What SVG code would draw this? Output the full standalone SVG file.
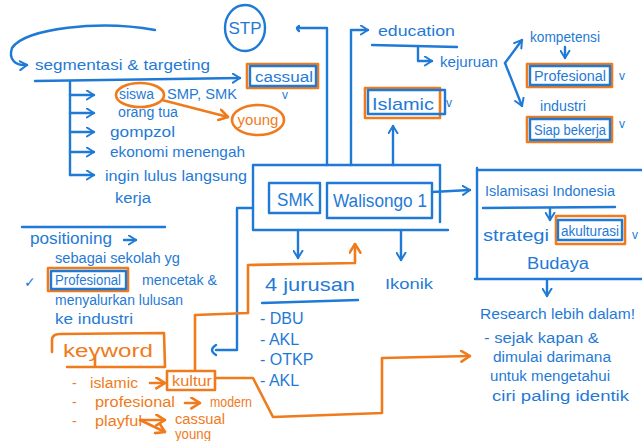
<svg xmlns="http://www.w3.org/2000/svg" width="642" height="441" viewBox="0 0 642 441" font-size="14">
<defs>
<style>
.b{fill:none;stroke:#1f7ad6;stroke-width:2.4;stroke-linecap:round;stroke-linejoin:round}
.o{fill:none;stroke:#f07b1c;stroke-width:2.6;stroke-linecap:round;stroke-linejoin:round}
.tb{font-family:"Liberation Sans","DejaVu Sans",sans-serif;fill:#1f7ad6}
.to{font-family:"Liberation Sans","DejaVu Sans",sans-serif;fill:#f07b1c}
</style>
<marker id="ab" viewBox="0 0 10 12" refX="9" refY="6" markerWidth="9" markerHeight="11" orient="auto" markerUnits="userSpaceOnUse"><path d="M1,1 L9,6 L1,11" fill="none" stroke="#1f7ad6" stroke-width="2.2" stroke-linecap="round" stroke-linejoin="round"/></marker>
<marker id="ao" viewBox="0 0 10 12" refX="9" refY="6" markerWidth="11" markerHeight="13" orient="auto" markerUnits="userSpaceOnUse"><path d="M1,1 L9,6 L1,11" fill="none" stroke="#f07b1c" stroke-width="2.4" stroke-linecap="round" stroke-linejoin="round"/></marker>
</defs>
<rect width="642" height="441" fill="#fff"/>

<g id="connectors">
<path class="b" d="M155,30 C100,20 25,28 12,48 C8,60 16,66 27,65" marker-end="url(#ab)"/>
<path class="b" d="M35,81 L240,78" marker-end="url(#ab)"/>
<path class="b" d="M70,81 L70,175"/>
<path class="b" d="M70,95 L94,95" marker-end="url(#ab)"/>
<path class="b" d="M70,113 L94,113" marker-end="url(#ab)"/>
<path class="b" d="M70,132 L94,132" marker-end="url(#ab)"/>
<path class="b" d="M70,152 L94,152" marker-end="url(#ab)"/>
<path class="b" d="M70,175 L94,175" marker-end="url(#ab)"/>
<path class="o" d="M162,100 L228,117" marker-end="url(#ao)"/>
<path class="b" d="M299,26 Q295,28 299,31 M297,28 L327,28 L327,165"/>
<path class="b" d="M351,165 L351,30 L368,30" marker-end="url(#ab)"/>
<path class="b" d="M393,165 L393,126" marker-end="url(#ab)"/>
<path class="b" d="M418,47 L418,61 L432,61" marker-end="url(#ab)"/>
<path class="b" d="M505,63 L522,40" marker-end="url(#ab)"/>
<path class="b" d="M505,63 L522,106" marker-end="url(#ab)"/>
<path class="b" d="M565,47 L565,58" marker-end="url(#ab)"/>
<path class="b" d="M298,231 L298,258" marker-end="url(#ab)"/>
<path class="b" d="M401,231 L401,260" marker-end="url(#ab)"/>
<path class="b" d="M253,208 L237,208 L237,350 L216,350 M216,345 Q208,350 216,355"/>
<path class="b" d="M432,192 L470,190" marker-end="url(#ab)"/>
<path class="b" d="M550,208 L550,220" marker-end="url(#ab)"/>
<path class="b" d="M547,280 L547,296" marker-end="url(#ab)"/>
<path class="b" d="M124,240 L136,240" marker-end="url(#ab)"/>
<path class="o" d="M195,370 L195,315 L248,313 L248,265 L355,263 L355,244" marker-end="url(#ao)"/>
<path class="o" d="M215,378 L253,378 L273,417 L382,413 L382,358 L470,356" marker-end="url(#ao)"/>
<path class="o" d="M150,383 L165,383" marker-end="url(#ao)"/>
<path class="o" d="M185,403 L200,403" marker-end="url(#ao)"/>
<path class="o" d="M140,420 L165,420" marker-end="url(#ao)"/>
<path class="o" d="M140,420 L165,432" marker-end="url(#ao)"/>
</g>

<g id="stp">
<ellipse class="b" cx="245" cy="28" rx="20" ry="23" stroke-width="1.6"/>
<text class="tb" x="245" y="34" text-anchor="middle" font-size="17">STP</text>
</g>

<g id="segmentasi">
<text class="tb" x="35" y="70" font-size="15" textLength="175" lengthAdjust="spacingAndGlyphs">segmentasi &amp; targeting</text>
</g>

<g id="cassual">
<rect class="o" x="247" y="64" width="71" height="24" stroke-width="3"/>
<rect class="b" x="250" y="66" width="66" height="20" stroke-width="1.6"/>
<text class="tb" x="255" y="82" textLength="58" lengthAdjust="spacingAndGlyphs">cassual</text>
<text class="tb" x="282" y="99" font-size="12">v</text>
</g>

<g id="siswa">
<ellipse class="o" cx="140" cy="95" rx="24" ry="12"/>
<text class="tb" x="119" y="99">siswa</text>
<text class="tb" x="167" y="99" textLength="70" lengthAdjust="spacingAndGlyphs">SMP, SMK</text>
</g>
<g id="young">
<ellipse class="o" cx="258" cy="120" rx="26" ry="15"/>
<text class="to" x="258" y="125" text-anchor="middle" font-size="15">young</text>
</g>
<g id="orangtua"><text class="tb" x="118" y="117" textLength="60" lengthAdjust="spacingAndGlyphs">orang tua</text></g>
<g id="gompzol"><text class="tb" x="110" y="137" textLength="65" lengthAdjust="spacingAndGlyphs">gompzol</text></g>
<g id="ekonomi"><text class="tb" x="110" y="157" font-size="15" textLength="135" lengthAdjust="spacingAndGlyphs">ekonomi menengah</text></g>
<g id="ingin">
<text class="tb" x="105" y="181" font-size="15" textLength="142" lengthAdjust="spacingAndGlyphs">ingin lulus langsung</text>
<text class="tb" x="115" y="203" textLength="36" lengthAdjust="spacingAndGlyphs">kerja</text>
</g>

<g id="education">
<text class="tb" x="378" y="36" font-size="15" textLength="77" lengthAdjust="spacingAndGlyphs">education</text>
<path class="b" d="M372,45 L457,47"/>
</g>
<g id="kejuruan"><text class="tb" x="440" y="67" textLength="58" lengthAdjust="spacingAndGlyphs">kejuruan</text></g>
<g id="kompetensi"><text class="tb" x="530" y="42" textLength="70" lengthAdjust="spacingAndGlyphs">kompetensi</text></g>
<g id="profesional">
<rect class="o" x="527" y="64" width="85" height="23" stroke-width="3"/>
<rect class="b" x="530" y="66" width="80" height="19" stroke-width="1.6"/>
<text class="tb" x="534" y="81" textLength="72" lengthAdjust="spacingAndGlyphs">Profesional</text>
<text class="tb" x="619" y="80" font-size="12">v</text>
</g>
<g id="industri"><text class="tb" x="540" y="111" textLength="46" lengthAdjust="spacingAndGlyphs">industri</text></g>
<g id="siapbekerja">
<rect class="o" x="527" y="117" width="85" height="25" stroke-width="3"/>
<rect class="b" x="530" y="119" width="80" height="21" stroke-width="1.6"/>
<text class="tb" x="534" y="135" textLength="72" lengthAdjust="spacingAndGlyphs">Siap bekerja</text>
<text class="tb" x="619" y="128" font-size="12">v</text>
</g>

<g id="islamic">
<rect class="o" x="365" y="88" width="75" height="30" stroke-width="3"/>
<rect class="b" x="368" y="90" width="77" height="24" stroke-width="1.6"/>
<text class="tb" x="372" y="110" font-size="17" textLength="62" lengthAdjust="spacingAndGlyphs">Islamic</text>
<text class="tb" x="446" y="107" font-size="12">v</text>
</g>

<g id="smk">
<path class="b" d="M253,165 L440,165 M253,165 L253,230 L448,230 M440,165 L440,222"/>
<rect class="b" x="269" y="183" width="51" height="30"/>
<text class="tb" x="277" y="206" font-size="18" textLength="37" lengthAdjust="spacingAndGlyphs">SMK</text>
<rect class="b" x="327" y="183" width="105" height="35"/>
<text class="tb" x="333" y="207" font-size="18" textLength="94" lengthAdjust="spacingAndGlyphs">Walisongo 1</text>
</g>

<g id="jurusan">
<text class="tb" x="265" y="291" font-size="19" textLength="90" lengthAdjust="spacingAndGlyphs">4 jurusan</text>
<path class="b" d="M262,303 L358,300"/>
<text class="tb" x="260" y="324" font-size="16">- DBU</text>
<text class="tb" x="260" y="345" font-size="16">- AKL</text>
<text class="tb" x="260" y="365" font-size="16">- OTKP</text>
<text class="tb" x="260" y="386" font-size="16">- AKL</text>
</g>
<g id="ikonik"><text class="tb" x="385" y="289" font-size="15" textLength="48" lengthAdjust="spacingAndGlyphs">Ikonik</text></g>

<g id="islamisasi">
<path class="b" d="M477,168 L477,278 M477,170 L642,170 M475,279 L642,279"/>
<text class="tb" x="485" y="196" textLength="130" lengthAdjust="spacingAndGlyphs">Islamisasi Indonesia</text>
<path class="b" d="M483,208 L615,207"/>
<text class="tb" x="483" y="241" font-size="16" textLength="66" lengthAdjust="spacingAndGlyphs">strategi</text>
<rect class="o" x="556" y="216" width="69" height="28" stroke-width="3"/>
<rect class="b" x="558" y="220" width="64" height="20" stroke-width="1.6"/>
<text class="tb" x="561" y="236" textLength="58" lengthAdjust="spacingAndGlyphs">akulturasi</text>
<text class="tb" x="632" y="239" font-size="12">v</text>
<text class="tb" x="527" y="269" font-size="16" textLength="62" lengthAdjust="spacingAndGlyphs">Budaya</text>
</g>

<g id="research">
<text class="tb" x="480" y="319" font-size="15" textLength="155" lengthAdjust="spacingAndGlyphs">Research lebih dalam!</text>
<text class="tb" x="484" y="343" textLength="115" lengthAdjust="spacingAndGlyphs">- sejak kapan &amp;</text>
<text class="tb" x="493" y="362" textLength="118" lengthAdjust="spacingAndGlyphs">dimulai darimana</text>
<text class="tb" x="490" y="381" textLength="120" lengthAdjust="spacingAndGlyphs">untuk mengetahui</text>
<text class="tb" x="492" y="401" textLength="137" lengthAdjust="spacingAndGlyphs">ciri paling identik</text>
</g>

<g id="positioning">
<path class="b" d="M22,227 L165,227"/>
<text class="tb" x="30" y="244" font-size="16" textLength="82" lengthAdjust="spacingAndGlyphs">positioning</text>
<text class="tb" x="55" y="263" textLength="125" lengthAdjust="spacingAndGlyphs">sebagai sekolah yg</text>
<text class="tb" x="24" y="287">✓</text>
<rect class="o" x="48" y="268" width="80" height="23" stroke-width="3"/>
<rect class="b" x="51" y="271" width="75" height="18" stroke-width="1.6"/>
<text class="tb" x="55" y="285" textLength="66" lengthAdjust="spacingAndGlyphs">Profesional</text>
<text class="tb" x="142" y="285" textLength="75" lengthAdjust="spacingAndGlyphs">mencetak &amp;</text>
<text class="tb" x="55" y="305" textLength="128" lengthAdjust="spacingAndGlyphs">menyalurkan lulusan</text>
<text class="tb" x="55" y="324" textLength="78" lengthAdjust="spacingAndGlyphs">ke industri</text>
</g>

<g id="keyword">
<path class="o" d="M52,352 L52,340 Q52,334 60,334 L164,333 L165,367 L67,367 M95,356 L95,367"/>
<text class="to" x="63" y="357" font-size="18" textLength="90" lengthAdjust="spacingAndGlyphs">keyword</text>
</g>
<g id="kultur">
<rect class="o" x="167" y="371" width="48" height="19" stroke-width="2.2"/>
<text class="to" x="172" y="386" textLength="40" lengthAdjust="spacingAndGlyphs">kultur</text>
</g>
<g id="keywords-list">
<text class="to" x="72" y="388">-</text>
<text class="to" x="90" y="388" textLength="48" lengthAdjust="spacingAndGlyphs">islamic</text>
<text class="to" x="72" y="407">-</text>
<text class="to" x="95" y="407" textLength="80" lengthAdjust="spacingAndGlyphs">profesional</text>
<text class="to" x="210" y="407" textLength="42" lengthAdjust="spacingAndGlyphs">modern</text>
<text class="to" x="72" y="426">-</text>
<text class="to" x="95" y="426" textLength="47" lengthAdjust="spacingAndGlyphs">playful</text>
<text class="to" x="175" y="424" textLength="50" lengthAdjust="spacingAndGlyphs">cassual</text>
<text class="to" x="175" y="439" textLength="36" lengthAdjust="spacingAndGlyphs">young</text>
</g>
</svg>
